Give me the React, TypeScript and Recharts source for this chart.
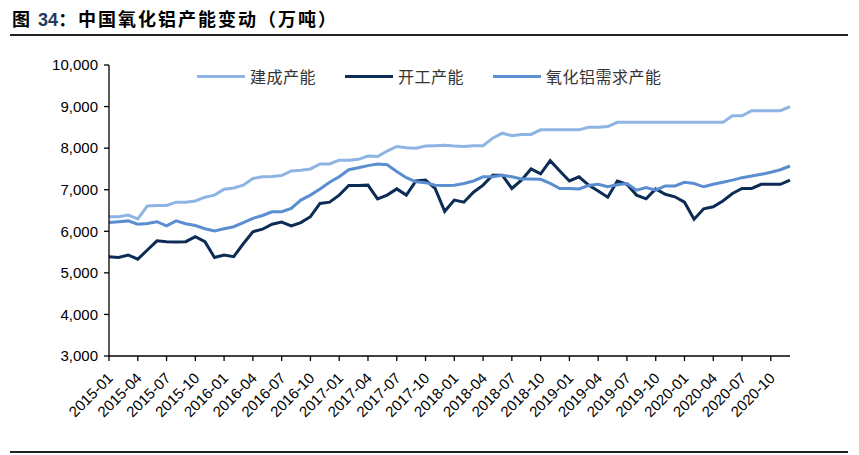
import React from 'react';
import { LineChart, Line, XAxis, YAxis } from 'recharts';

// 2015-01 .. 2020-12, monthly
const years = ['2015', '2016', '2017', '2018', '2019', '2020'];
const months = ['01', '02', '03', '04', '05', '06', '07', '08', '09', '10', '11', '12'];
const periods: string[] = years.flatMap((y) => months.map((m) => `${y}-${m}`));

// 建成产能 (万吨)
const builtCapacity = [
  6350, 6350, 6390, 6300, 6610, 6620, 6620, 6700, 6700, 6730,
  6820, 6870, 7010, 7040, 7110, 7270, 7310, 7320, 7340, 7450,
  7470, 7500, 7620, 7620, 7710, 7710, 7730, 7810, 7800, 7930,
  8040, 8010, 8000, 8050, 8060, 8070, 8050, 8040, 8060, 8060,
  8240, 8360, 8300, 8330, 8330, 8440, 8440, 8440, 8440, 8440,
  8500, 8500, 8520, 8620, 8620, 8620, 8620, 8620, 8620, 8620,
  8620, 8620, 8620, 8620, 8620, 8780, 8780, 8900, 8900, 8900,
  8900, 9000,
];

// 开工产能 (万吨)
const runningCapacity = [
  5390, 5370, 5430, 5330, 5550, 5770, 5750, 5740, 5750, 5870,
  5750, 5370, 5430, 5390, 5700, 5990, 6050, 6170, 6220, 6130,
  6210, 6350, 6670, 6700, 6870, 7100, 7100, 7110, 6780, 6870,
  7020, 6870, 7210, 7230, 7030, 6480, 6750, 6700, 6940, 7110,
  7350, 7350, 7030, 7230, 7500, 7380, 7700, 7450, 7210, 7310,
  7110, 6970, 6820, 7210, 7130, 6870, 6780, 7020, 6890, 6830,
  6700, 6290, 6540, 6590, 6730, 6910, 7030, 7030, 7130, 7130,
  7130, 7230,
];

// 氧化铝需求产能 (万吨)
const demandCapacity = [
  6210, 6230, 6250, 6170, 6190, 6230, 6130, 6250, 6180, 6140,
  6060, 6010, 6060, 6110, 6210, 6310, 6380, 6470, 6470, 6550,
  6750, 6870, 7020, 7180, 7310, 7480, 7530, 7580, 7620, 7600,
  7440, 7290, 7190, 7170, 7110, 7100, 7110, 7150, 7210, 7310,
  7310, 7350, 7310, 7260, 7260, 7250, 7150, 7030, 7030, 7020,
  7100, 7130, 7070, 7120, 7150, 6990, 7050, 6990, 7090, 7090,
  7180, 7150, 7070, 7130, 7180, 7230, 7290, 7330, 7370, 7420,
  7480, 7570,
];

const yTicks = [3000, 4000, 5000, 6000, 7000, 8000, 9000, 10000];

const data = periods.map((p, i) => ({
  period: p,
  built: builtCapacity[i],
  running: runningCapacity[i],
  demand: demandCapacity[i],
}));

const COLORS = {
  built: '#8EB4E3',
  running: '#0C2C56',
  demand: '#5A8ED0',
};

const series = [
  { key: 'built', name: '建成产能', color: COLORS.built, x: 197 },
  { key: 'running', name: '开工产能', color: COLORS.running, x: 345 },
  { key: 'demand', name: '氧化铝需求产能', color: COLORS.demand, x: 493 },
];

const LABEL_FONT = '"Liberation Sans", Arial, sans-serif';
const CJK_FONT = '"Noto Sans CJK SC", "Noto Sans", sans-serif';

// rotated month label, right end sitting just below the tick
const XTick = (props: any) => {
  const { x, y, payload } = props;
  return (
    <g transform={`translate(${x},${y})`}>
      <text
        x={5}
        y={16}
        transform="rotate(-45 5 16)"
        textAnchor="end"
        fontSize={15}
        fontFamily={LABEL_FONT}
        fill="#000"
      >
        {payload.value}
      </text>
    </g>
  );
};

export default function App() {
  return (
    <div
      style={{
        position: 'fixed',
        left: 0,
        top: 0,
        width: 859,
        height: 455,
        background: '#fff',
      }}
    >
      <div
        style={{
          position: 'absolute',
          left: 12,
          top: 6,
          fontFamily: CJK_FONT,
          fontWeight: 700,
          fontSize: 18,
          letterSpacing: 2,
          color: '#000',
          whiteSpace: 'nowrap',
          lineHeight: '24px',
        }}
      >
        图 <span style={{ fontFamily: LABEL_FONT, letterSpacing: 0, color: '#1F3A60' }}>34</span>：中国氧化铝产能变动（万吨）
      </div>
      <div style={{ position: 'absolute', left: 10, top: 34, width: 838, height: 2, background: '#222' }} />
      <div style={{ position: 'absolute', left: 10, top: 451, width: 838, height: 2, background: '#222' }} />

      {/* legend */}
      {series.map((s) => (
        <div
          key={s.key}
          style={{
            position: 'absolute',
            left: s.x,
            top: 66,
            height: 20,
            display: 'flex',
            alignItems: 'center',
            whiteSpace: 'nowrap',
          }}
        >
          <div style={{ width: 48, height: 3, background: s.color }} />
          <span
            style={{
              marginLeft: 5,
              fontFamily: CJK_FONT,
              fontSize: 16,
              color: '#333',
              letterSpacing: 0.5,
            }}
          >
            {s.name}
          </span>
        </div>
      ))}

      <div style={{ position: 'absolute', left: 0, top: 0 }}>
        <LineChart
          width={859}
          height={455}
          data={data}
          margin={{ top: 65, right: 69, left: 49, bottom: 39 }}
        >
          <XAxis
            dataKey="period"
            interval={2}
            height={60}
            tick={<XTick />}
            tickSize={5}
            axisLine={{ stroke: '#000', strokeWidth: 1.3 }}
            tickLine={{ stroke: '#000', strokeWidth: 1.3 }}
          />
          <YAxis
            width={60}
            domain={[3000, 10000]}
            ticks={yTicks}
            interval={0}
            tickSize={5}
            tickMargin={6}
            axisLine={{ stroke: '#000', strokeWidth: 1.3 }}
            tickLine={{ stroke: '#000', strokeWidth: 1.3 }}
            tick={{ fontSize: 15, fontFamily: LABEL_FONT, fill: '#000' }}
            tickFormatter={(v: number) => v.toLocaleString('en-US')}
          />
          {series.map((s) => (
            <Line
              key={s.key}
              dataKey={s.key}
              name={s.name}
              type="linear"
              stroke={s.color}
              strokeWidth={3}
              dot={false}
              activeDot={false}
              isAnimationActive={false}
            />
          ))}
        </LineChart>
      </div>
    </div>
  );
}
